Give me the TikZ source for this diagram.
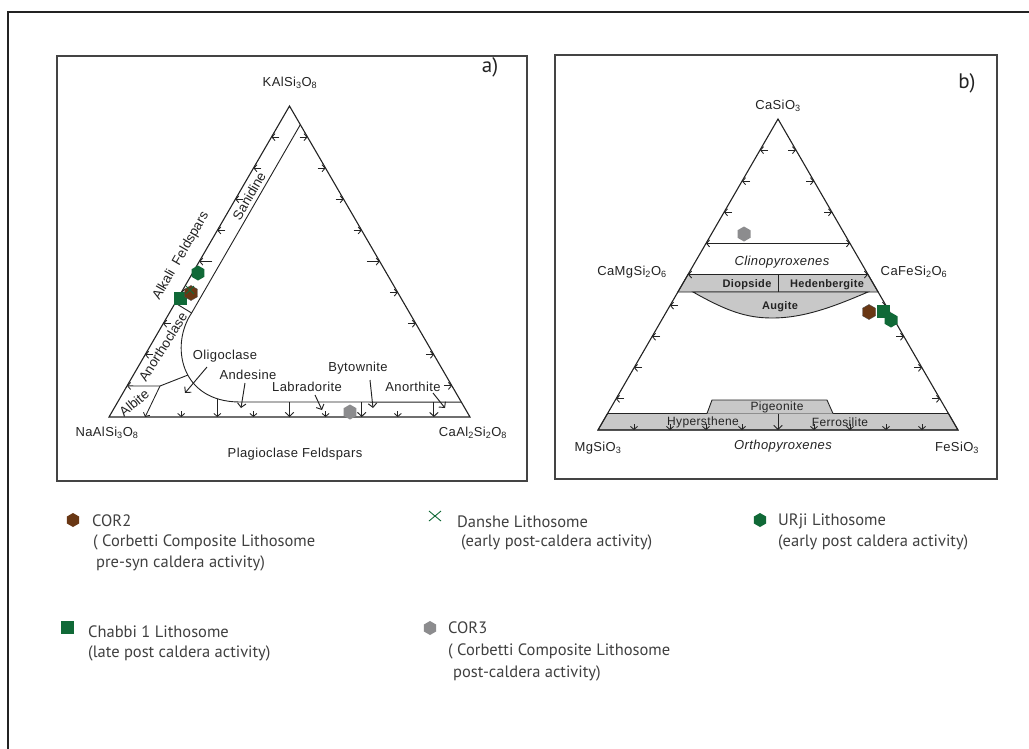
\documentclass[tikz,border=0pt]{standalone}
\usepackage{fontspec}
\setmainfont{Liberation Sans}
\newfontfamily\labfont[LetterSpace=3]{Liberation Sans}
\newfontfamily\rotfont{Liberation Sans}
\newfontfamily\legfont{PT Sans}
\usetikzlibrary{calc,arrows.meta,shapes.geometric}
\definecolor{brn}{RGB}{105,55,20}
\definecolor{grn}{RGB}{16,105,55}
\definecolor{gry}{RGB}{140,140,142}
\definecolor{bandc}{RGB}{200,200,200}
\definecolor{ink}{RGB}{35,35,35}
\begin{document}
\begin{tikzpicture}[x=1pt,y=-1pt,
  outerframe/.style={draw=ink,line width=1.8pt},
  pframe/.style={draw=ink!85,line width=1.3pt},
  edge/.style={draw=ink,line width=1.1pt,line join=miter},
  thinl/.style={draw=ink,line width=0.9pt},
  tick/.style={draw=ink,line width=0.85pt,-{Straight Barb[length=3pt,width=7pt]}},
  bigtick/.style={draw=ink,line width=0.95pt,-{Straight Barb[length=4pt,width=8.5pt]}},
  dtick/.style={draw=ink,line width=0.9pt,{Straight Barb[length=3pt,width=7pt]}-{Straight Barb[length=3pt,width=7pt]}},
  lab/.style={font=\labfont\fontsize{13}{15}\selectfont,inner sep=0pt,text=ink},
  rlab/.style={font=\rotfont\fontsize{13.5}{15}\selectfont,inner sep=0pt,text=ink},
  slab/.style={font=\labfont\fontsize{12}{14}\selectfont,inner sep=0pt,text=ink},
  blab/.style={font=\labfont\bfseries\fontsize{11}{13}\selectfont,inner sep=0pt,text=ink},
  ilab/.style={font=\labfont\itshape\fontsize{13}{15}\selectfont,inner sep=0pt,text=ink},
  leg/.style={font=\legfont\fontsize{16.5}{19}\selectfont,inner sep=0pt,anchor=west,text=black!75},
  ptitle/.style={font=\legfont\fontsize{21}{23}\selectfont,inner sep=0pt,text=ink},
  hexm/.style={regular polygon,regular polygon sides=6,shape border rotate=30,minimum size=15pt,inner sep=0pt},
  sqm/.style={rectangle,minimum size=13pt,inner sep=0pt,fill=grn}
]
\useasboundingbox (0,0) rectangle (1029,748);
\fill[white] (0,0) rectangle (1029,748);
% outer frame and panels
\draw[outerframe] (8,760) -- (8,12) -- (1040,12);
\draw[pframe] (57,56) rectangle (527,481);
\draw[pframe] (555,55) rectangle (997,479);

% ================= panel a =================
\coordinate (aA) at (109,417);
\coordinate (aB) at (470,417);
\coordinate (aC) at (289.5,106);
\draw[edge] (aA) -- (aB) -- (aC) -- cycle;
\coordinate (aI1) at ($(aB)!0.94!(aC)$);
\coordinate (aI2) at (191.6,313);
\coordinate (aH) at ($(aB)!0.048!(aC)$);
\draw[thinl] (aI1) -- (aI2) .. controls (170,345) and (180,402) .. (240,402) -- (aH);
\coordinate (aS1) at ($(aA)!0.3666!(aC)$);
\draw[thinl] (aS1) -- (aI2);
% albite
\coordinate (aL1) at ($(aA)!0.1!(aC)$);
\coordinate (aL2) at (160,386);
\coordinate (aL3) at (188,375);
\coordinate (aL4) at ($(aA)!0.1!(aB)$);
\draw[tick] (aL2) -- (aL1);
\draw[thinl] (aL2) -- (aL3);
\draw[tick] (aL2) -- (aL4);
% ticks left
\foreach \k in {2,3,4,6,7,8,9}{
  \coordinate (tl) at ($(aA)!\k/10!(aC)$);
  \draw[tick] ($(tl)+(8,0)$) -- (tl);}
\coordinate (tl5) at ($(aA)!0.5!(aC)$);
\draw[tick] ($(tl5)+(13,0)$) -- (tl5);
% ticks right
\foreach \k in {1,2,3,4,6,7,8,9}{
  \coordinate (tr) at ($(aB)!\k/10!(aC)$);
  \draw[tick] ($(tr)+(-8,0)$) -- (tr);}
\coordinate (tr5) at ($(aB)!0.5!(aC)$);
\draw[tick] ($(tr5)+(-13,0)$) -- (tr5);
% ticks bottom
\foreach \k in {2,4,6,8}{
  \coordinate (tb) at ($(aA)!\k/10!(aB)$);
  \draw[tick] ($(tb)+(0,-6)$) -- (tb);}
\coordinate (tb3) at ($(aA)!0.3!(aB)$);
\draw[tick] ($(tb3)+(0,-18)$) -- (tb3);
\foreach \k in {5,7,9}{
  \coordinate (tbd) at ($(aA)!\k/10!(aB)$);
  \draw[bigtick] ($(tbd)+(0,-15)$) -- (tbd);}
% label arrows
\coordinate (oa1) at (207,367); \coordinate (oa2) at (185,393);
\coordinate (an1) at (245,383); \coordinate (an2) at (241,408);
\coordinate (lb1) at (315,395); \coordinate (lb2) at (322,410);
\coordinate (by1) at (370,380); \coordinate (by2) at (373,408);
\coordinate (ao1) at (433,393); \coordinate (ao2) at (445,408);
\draw[bigtick] (oa1) -- (oa2);
\draw[bigtick] (an1) -- (an2);
\draw[bigtick] (lb1) -- (lb2);
\draw[bigtick] (by1) -- (by2);
\draw[bigtick] (ao1) -- (ao2);
% labels
\node[lab] (aK) at (290,83) {KAlSi\textsubscript{3}O\textsubscript{8}};
\node[ptitle] (aT) at (490,67) {a)};
\node[lab] (aNa) at (107,433) {NaAlSi\textsubscript{3}O\textsubscript{8}};
\node[lab] (aCa) at (473,433) {CaAl\textsubscript{2}Si\textsubscript{2}O\textsubscript{8}};
\node[lab] (aPl) at (295,454) {Plagioclase Feldspars};
\node[lab] (aOl) at (225,356) {Oligoclase};
\node[lab] (aAn) at (248,375) {Andesine};
\node[lab] (aLb) at (307,387) {Labradorite};
\node[lab] (aBy) at (358,368) {Bytownite};
\node[lab] (aAo) at (413,387) {Anorthite};
\node[rlab,rotate=60] (aAF) at (181,256) {Alkali\ \ Feldspars};
\node[rlab,rotate=60] (aSa) at (249,196) {Sanidine};
\node[rlab,rotate=58] (aAc) at (163,347) {Anorthoclase};
\node[rlab,rotate=40] (aAb) at (134,403) {Albite};
% markers a
\node[sqm] (aCh) at (180,298) {};
\node[hexm,fill=brn,draw=black!70,line width=0.4pt] (aC2) at (191,293) {};
\coordinate (aX) at (190,290);
\draw[grn,line width=0.9pt] ($(aX)+(-4,-4)$) -- ($(aX)+(4,4)$) ($(aX)+(-4,4)$) -- ($(aX)+(4,-4)$);
\node[hexm,fill=grn] (aUr) at (198,273) {};
\node[hexm,fill=gry] (aC3) at (350,412) {};

% ================= panel b =================
\coordinate (bA) at (598,430);
\coordinate (bB) at (958,430);
\coordinate (bC) at (778,119);
\coordinate (bD1) at ($(bA)!0.5!(bC)$);
\coordinate (bD2) at ($(bB)!0.5!(bC)$);
\coordinate (bD3) at ($(bB)!0.4437!(bC)$);
\coordinate (bD4) at ($(bA)!0.4437!(bC)$);
\filldraw[fill=bandc,thinl] (bD1) -- (bD2) -- (bD3) -- (bD4) -- cycle;
\draw[thinl] (778,274.5) -- (778,292);
\filldraw[fill=bandc,thinl] (693,292) .. controls (725,310) and (745,318) .. (772,318) .. controls (805,318) and (835,306) .. (868,292) -- cycle;
\coordinate (bO1) at ($(bA)!0.053!(bC)$);
\coordinate (bO2) at ($(bB)!0.053!(bC)$);
\filldraw[fill=bandc,thinl] (bA) -- (bB) -- (bO2) -- (bO1) -- cycle;
\filldraw[fill=bandc,thinl] (707,413.5) -- (712,400) -- (827,400) -- (833,413.5);
\draw[edge] (bA) -- (bB) -- (bC) -- cycle;
\draw[dtick] ($(bA)!0.6!(bC)$) -- ($(bB)!0.6!(bC)$);
\draw[dtick] (bD1) -- (bD2);
\foreach \k in {1,2,3,4,7,8,9}{
  \coordinate (ul) at ($(bA)!\k/10!(bC)$);
  \draw[tick] ($(ul)+(8,0)$) -- (ul);
  \coordinate (ur) at ($(bB)!\k/10!(bC)$);
  \draw[tick] ($(ur)+(-8,0)$) -- (ur);}
\foreach \k in {1,2,3,4,6,7,8,9}{
  \coordinate (ub) at ($(bA)!\k/10!(bB)$);
  \draw[tick] ($(ub)+(0,-6)$) -- (ub);}
\coordinate (ub5) at ($(bA)!0.5!(bB)$);
\draw[bigtick] ($(ub5)+(0,-16.5)$) -- (ub5);
% labels b
\node[lab] (bCa) at (778,106) {CaSiO\textsubscript{3}};
\node[ptitle] (bT) at (967,83) {b)};
\node[lab] (bMgD) at (632,272) {CaMgSi\textsubscript{2}O\textsubscript{6}};
\node[lab] (bFeD) at (914,272) {CaFeSi\textsubscript{2}O\textsubscript{6}};
\node[ilab] (bCl) at (782,262) {Clinopyroxenes};
\node[blab] (bDi) at (747,285) {Diopside};
\node[blab] (bHe) at (827,285) {Hedenbergite};
\node[blab] (bAu) at (780,307) {Augite};
\node[slab] (bPi) at (777,407) {Pigeonite};
\node[slab] (bHy) at (703,422) {Hypersthene};
\node[slab] (bFs) at (840,422) {Ferrosilite};
\node[lab] (bMg) at (598,448) {MgSiO\textsubscript{3}};
\node[lab] (bFe) at (957,448) {FeSiO\textsubscript{3}};
\node[ilab] (bOr) at (783,446) {Orthopyroxenes};
% markers b
\node[hexm,fill=gry] (bC3) at (744,234) {};
\node[hexm,fill=brn,draw=black!70,line width=0.4pt] (bC2) at (869,312) {};
\node[sqm] (bCh) at (883,311) {};
\node[hexm,fill=grn] (bUr) at (891,320) {};

% ================= legend =================
\node[hexm,fill=brn,minimum size=14pt] (lC2) at (73,520) {};
\node[leg] (lC2a) at (92,521) {COR2};
\node[leg] (lC2b) at (93,542) {( Corbetti Composite Lithosome};
\node[leg] (lC2c) at (96,563) {pre-syn caldera activity)};
\node[sqm] (lCh) at (67,627) {};
\node[leg] (lCha) at (88,632) {Chabbi 1 Lithosome};
\node[leg] (lChb) at (88,653) {(late post caldera activity)};
\coordinate (lX) at (435,516);
\draw[grn,line width=0.9pt] ($(lX)+(-6,-5)$) -- ($(lX)+(6,5)$) ($(lX)+(-6,5)$) -- ($(lX)+(6,-5)$);
\node[leg] (lDa) at (457,522) {Danshe Lithosome};
\node[leg] (lDb) at (461,542) {(early post-caldera activity)};
\node[hexm,fill=grn,minimum size=14pt] (lUr) at (760,520) {};
\node[leg] (lUa) at (778,521) {URji Lithosome};
\node[leg] (lUb) at (778,542) {(early post caldera activity)};
\node[hexm,fill=gry,minimum size=14pt] (lC3) at (430,628) {};
\node[leg] (lC3a) at (448,628) {COR3};
\node[leg] (lC3b) at (448,651) {( Corbetti Composite Lithosome};
\node[leg] (lC3c) at (453,673) {post-caldera activity)};
\end{tikzpicture}
\end{document}
